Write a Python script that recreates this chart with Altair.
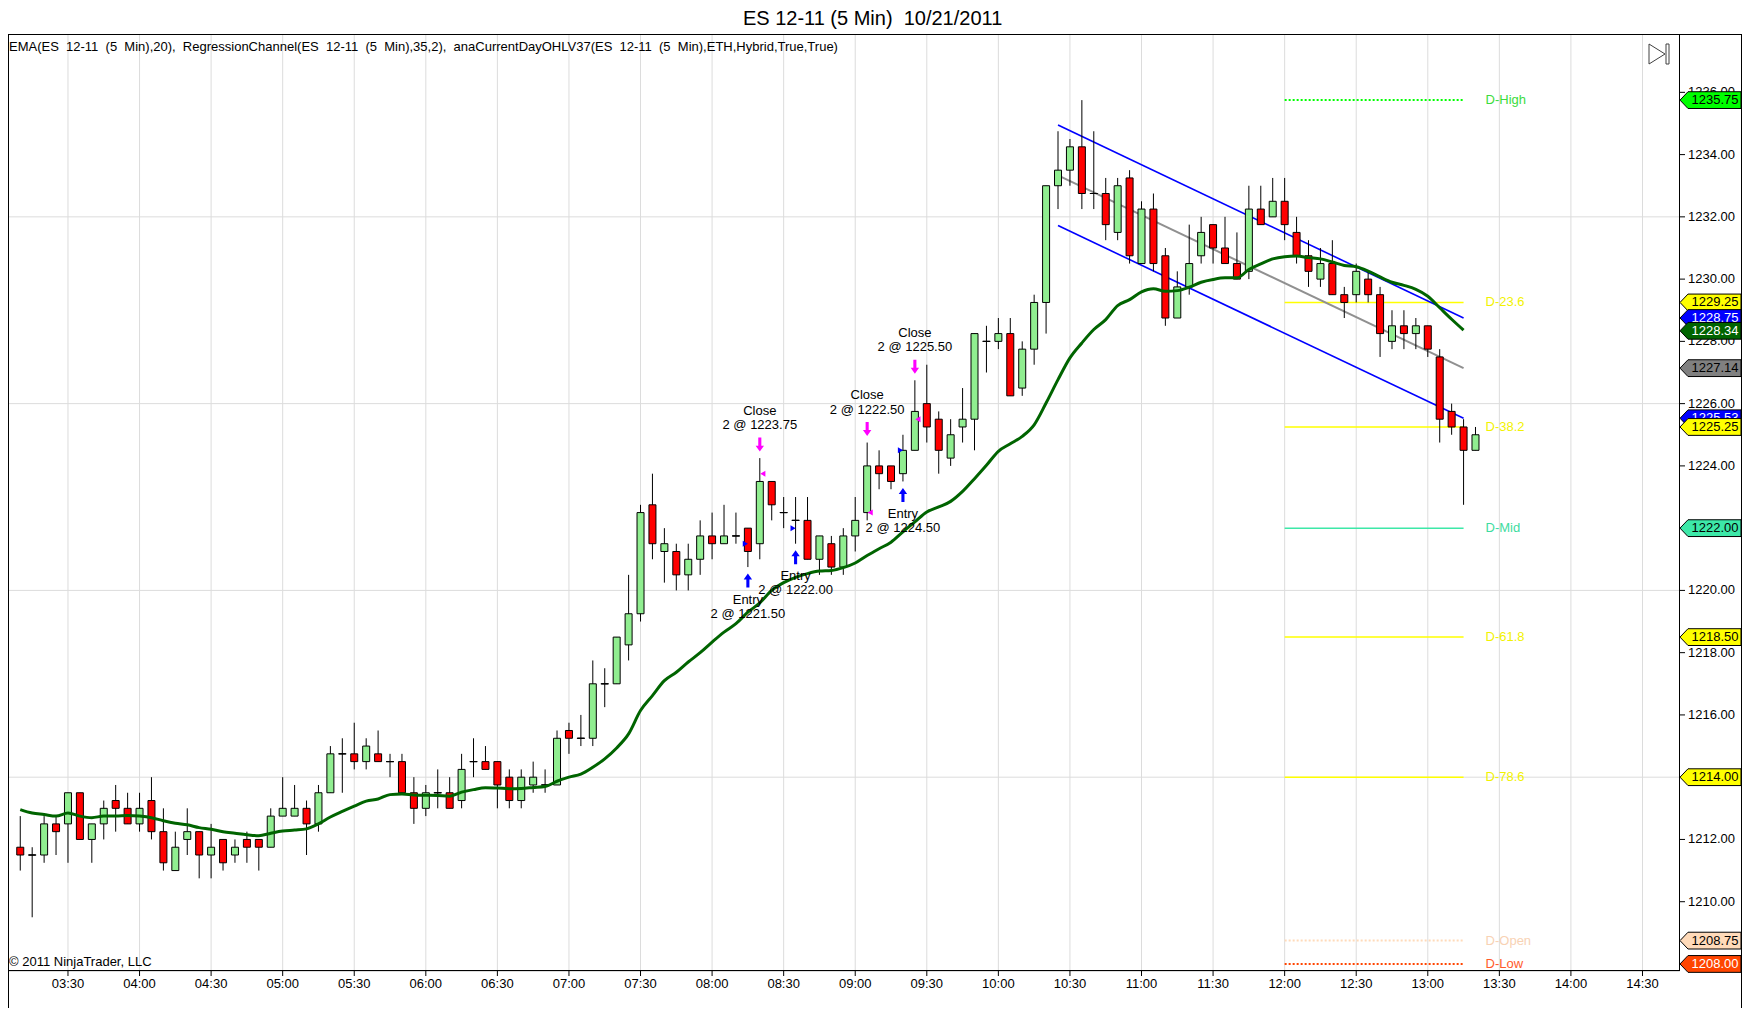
import altair as alt
import pandas as pd

# ---------------- data ----------------
bar_start_minute = 190      # first bar closes 03:10
bar_step_minutes = 5

opens = [1211.75, 1211.5, 1211.5, 1212.5, 1212.5, 1213.5, 1212.0, 1212.5, 1213.25, 1213.0,
         1212.5, 1213.25, 1212.25, 1211.0, 1212.0, 1212.25, 1211.5, 1212.0, 1211.5, 1212.0,
         1212.0, 1211.75, 1212.75, 1212.75, 1213.0, 1212.5, 1213.5, 1214.75, 1214.75, 1214.5,
         1214.75, 1214.5, 1214.5, 1213.5, 1213.0, 1213.5, 1213.5, 1213.25, 1214.5, 1214.5,
         1214.5, 1214.0, 1213.25, 1213.75, 1213.75, 1213.75, 1215.5, 1215.25, 1215.25, 1217.0,
         1217.0, 1218.25, 1219.25, 1222.75, 1221.25, 1221.25, 1220.5, 1221.0, 1221.75, 1221.5,
         1221.75, 1222.0, 1221.5, 1223.5, 1222.5, 1222.25, 1222.25, 1221.0, 1221.5, 1220.75,
         1221.75, 1222.5, 1224.0, 1224.0, 1223.75, 1224.5, 1226.0, 1225.5, 1224.25, 1225.25,
         1225.5, 1228.0, 1228.0, 1228.25, 1226.5, 1227.75, 1229.25, 1233.0, 1233.5, 1234.25,
         1232.75, 1232.75, 1231.5, 1233.25, 1230.5, 1232.25, 1230.75, 1228.75, 1229.75, 1230.75,
         1231.75, 1231.0, 1230.5, 1230.25, 1232.25, 1232.0, 1232.5, 1231.5, 1230.75, 1230.0,
         1230.5, 1229.5, 1229.5, 1230.0, 1229.5, 1228.0, 1228.5, 1228.25, 1228.5, 1227.5,
         1225.75, 1225.25, 1224.5]
highs = [1212.75, 1211.75, 1212.75, 1212.75, 1213.5, 1213.5, 1212.5, 1213.25, 1213.75, 1213.5,
         1213.5, 1214.0, 1213.0, 1212.25, 1213.0, 1212.25, 1212.5, 1212.0, 1212.0, 1212.25,
         1212.0, 1213.0, 1214.0, 1213.75, 1213.25, 1213.75, 1215.0, 1215.25, 1215.75, 1215.25,
         1215.5, 1214.75, 1214.75, 1214.0, 1213.75, 1214.25, 1214.0, 1214.75, 1215.25, 1215.0,
         1214.5, 1214.25, 1214.25, 1214.5, 1214.25, 1215.5, 1215.75, 1216.0, 1217.75, 1217.5,
         1218.5, 1220.5, 1222.75, 1223.75, 1222.0, 1221.5, 1221.5, 1222.25, 1222.5, 1222.75,
         1222.5, 1222.0, 1224.25, 1223.5, 1223.0, 1223.0, 1223.0, 1221.75, 1221.75, 1222.0,
         1223.0, 1224.75, 1224.5, 1224.0, 1225.0, 1226.75, 1227.25, 1225.75, 1225.5, 1226.5,
         1228.25, 1228.5, 1228.75, 1228.75, 1228.0, 1229.5, 1233.0, 1234.75, 1234.5, 1235.75,
         1234.75, 1233.25, 1233.25, 1233.5, 1232.5, 1232.75, 1231.0, 1230.25, 1231.75, 1232.0,
         1231.75, 1232.0, 1231.5, 1233.0, 1233.0, 1233.25, 1233.25, 1232.0, 1231.25, 1231.0,
         1231.25, 1229.75, 1230.5, 1230.25, 1229.75, 1229.0, 1229.0, 1228.75, 1228.5, 1227.75,
         1226.0, 1225.5, 1225.25]
lows = [1211.0, 1209.5, 1211.25, 1211.5, 1211.25, 1212.0, 1211.25, 1212.0, 1212.25, 1212.5,
        1212.25, 1212.0, 1211.0, 1211.0, 1211.5, 1210.75, 1210.75, 1211.0, 1211.25, 1211.25,
        1211.0, 1211.75, 1212.75, 1212.75, 1211.5, 1212.25, 1213.5, 1213.5, 1214.25, 1214.25,
        1214.5, 1214.0, 1213.5, 1212.5, 1212.75, 1213.0, 1213.0, 1213.0, 1214.0, 1214.25,
        1213.0, 1213.0, 1213.0, 1213.5, 1213.5, 1213.75, 1214.75, 1215.0, 1215.0, 1216.25,
        1217.0, 1217.75, 1219.0, 1221.0, 1220.25, 1220.0, 1220.0, 1220.5, 1221.0, 1221.5,
        1221.5, 1220.75, 1221.0, 1222.25, 1222.0, 1221.5, 1221.0, 1220.5, 1220.5, 1220.5,
        1221.25, 1222.25, 1223.25, 1223.25, 1223.5, 1224.5, 1224.75, 1223.75, 1224.0, 1224.75,
        1224.5, 1227.0, 1227.75, 1226.25, 1226.25, 1227.25, 1228.25, 1232.25, 1233.0, 1232.25,
        1232.25, 1231.25, 1231.25, 1230.5, 1230.5, 1230.25, 1228.5, 1228.75, 1229.5, 1230.5,
        1230.5, 1230.5, 1230.0, 1230.0, 1231.75, 1232.0, 1231.25, 1230.5, 1229.75, 1229.75,
        1229.5, 1228.75, 1229.25, 1229.25, 1227.5, 1227.75, 1227.75, 1227.75, 1227.5, 1224.75,
        1225.0, 1222.75, 1224.5]
closes = [1211.5, 1211.5, 1212.5, 1212.25, 1213.5, 1212.0, 1212.5, 1213.0, 1213.0, 1212.5,
          1213.0, 1212.25, 1211.25, 1211.75, 1212.25, 1211.5, 1211.75, 1211.25, 1211.75, 1211.75,
          1211.75, 1212.75, 1213.0, 1213.0, 1212.5, 1213.5, 1214.75, 1214.75, 1214.5, 1215.0,
          1214.5, 1214.5, 1213.5, 1213.0, 1213.5, 1213.5, 1213.0, 1214.25, 1214.5, 1214.25,
          1213.75, 1213.25, 1214.0, 1214.0, 1213.75, 1215.25, 1215.25, 1215.25, 1217.0, 1217.0,
          1218.5, 1219.25, 1222.5, 1221.5, 1221.5, 1220.5, 1221.0, 1221.75, 1221.5, 1221.75,
          1221.75, 1221.25, 1223.5, 1222.75, 1222.5, 1222.25, 1221.0, 1221.75, 1220.75, 1221.75,
          1222.25, 1224.0, 1223.75, 1223.5, 1224.5, 1225.75, 1225.25, 1224.5, 1225.0, 1225.5,
          1228.25, 1228.0, 1228.25, 1226.25, 1227.75, 1229.25, 1233.0, 1233.5, 1234.25, 1232.75,
          1232.75, 1231.75, 1233.0, 1230.75, 1232.25, 1230.5, 1228.75, 1229.75, 1230.5, 1231.5,
          1231.0, 1230.5, 1230.0, 1232.25, 1231.75, 1232.5, 1231.75, 1230.75, 1230.25, 1230.5,
          1229.5, 1229.25, 1230.25, 1229.5, 1228.25, 1228.5, 1228.25, 1228.5, 1227.75, 1225.5,
          1225.25, 1224.5, 1225.0]

# EMA(20), one value per bar (drawn up to the 13:15 bar)
ema20 = [1212.96, 1212.85, 1212.8, 1212.75, 1212.85, 1212.75, 1212.7, 1212.75, 1212.75, 1212.77,
         1212.75, 1212.7, 1212.6, 1212.52, 1212.47, 1212.38, 1212.33, 1212.25, 1212.2, 1212.15,
         1212.12, 1212.2, 1212.27, 1212.3, 1212.34, 1212.5, 1212.72, 1212.9, 1213.07, 1213.23,
         1213.3, 1213.44, 1213.46, 1213.43, 1213.42, 1213.41, 1213.39, 1213.52, 1213.6, 1213.66,
         1213.65, 1213.63, 1213.64, 1213.67, 1213.7, 1213.87, 1214.0, 1214.1, 1214.32, 1214.59,
         1214.94, 1215.39, 1216.14, 1216.62, 1217.1, 1217.37, 1217.7, 1218.0, 1218.34, 1218.66,
         1218.93, 1219.3, 1219.6, 1220.0, 1220.25, 1220.42, 1220.54, 1220.62, 1220.64, 1220.73,
         1220.88, 1221.12, 1221.34, 1221.55, 1221.88, 1222.2, 1222.52, 1222.68, 1222.86, 1223.18,
         1223.59, 1224.02, 1224.47, 1224.71, 1224.95, 1225.32, 1226.02, 1226.77, 1227.47, 1227.95,
         1228.38, 1228.7, 1229.15, 1229.34, 1229.59, 1229.69, 1229.61, 1229.63, 1229.74, 1229.9,
         1229.99, 1230.04, 1230.04, 1230.31, 1230.49, 1230.65, 1230.72, 1230.74, 1230.69, 1230.65,
         1230.55, 1230.44, 1230.4, 1230.26, 1230.07, 1229.9, 1229.8, 1229.67, 1229.45, 1229.08,
         1228.71, 1228.36]

# Regression channel (35 bars) end points
reg_minutes = [625, 795]
reg_mid = [1233.33, 1227.14]
reg_upper = [1234.95, 1228.75]
reg_lower = [1231.72, 1225.53]

# Current-day OHL levels
level_start_minute = 720
level_end_minute = 795
level_names = ["D-High", "D-23.6", "D-38.2", "D-Mid", "D-61.8", "D-78.6", "D-Open", "D-Low"]
level_prices = [1235.75, 1229.25, 1225.25, 1222.00, 1218.50, 1214.00, 1208.75, 1208.00]
level_line_colors = ["#00FF00", "#FFFF00", "#FFFF00", "#3DE8A8", "#FFFF00", "#FFFF00", "#FFDAB9", "#FF4500"]
level_text_colors = ["#3CDC3C", "#F2F200", "#F2F200", "#3DDCA0", "#F2F200", "#F2F200", "#F8D2B4", "#FF5A2A"]
level_dotted = [True, False, False, False, False, False, True, True]

# Right-axis price flags
flag_values = [1235.75, 1229.25, 1228.75, 1228.34, 1227.14, 1225.53, 1225.25, 1222.00, 1218.50, 1214.00, 1208.75, 1208.00]
flag_fills = ["#00FF00", "#FFFF00", "#0000FF", "#006400", "#808080", "#0000FF", "#FFFF00", "#3DE8A8",
              "#FFFF00", "#FFFF00", "#FFDAB9", "#FF4500"]
flag_text_colors = ["#000000", "#000000", "#FFFFFF", "#FFFFFF", "#000000", "#FFFFFF", "#000000", "#000000",
                    "#000000", "#000000", "#000000", "#FFFFFF"]

# Trade executions
trade_qty = 2
entry_bars = [61, 65, 74]
entry_prices = [1221.50, 1222.00, 1224.50]
exit_bars = [62, 71, 75]
exit_prices = [1223.75, 1222.50, 1225.50]

# Axes
x_tick_minutes = [210 + 30 * k for k in range(23)]
x_tick_labels = ["03:30", "04:00", "04:30", "05:00", "05:30", "06:00", "06:30", "07:00", "07:30",
                 "08:00", "08:30", "09:00", "09:30", "10:00", "10:30", "11:00", "11:30", "12:00",
                 "12:30", "13:00", "13:30", "14:00", "14:30"]
y_tick_values = [1208 + 2 * k for k in range(15)]
h_grid_prices = [1214, 1220, 1226, 1232]

title_text = "ES 12-11 (5 Min) \u00a010/21/2011"
indicator_text = ("EMA(ES \u00a012-11 \u00a0(5 \u00a0Min),20), \u00a0RegressionChannel(ES \u00a012-11 \u00a0(5 \u00a0Min),35,2), "
                  "\u00a0anaCurrentDayOHLV37(ES \u00a012-11 \u00a0(5 \u00a0Min),ETH,Hybrid,True,True)")
copyright_text = "\u00a9 2011 NinjaTrader, LLC"

# ---------------- frames ----------------
n = len(opens)
bar_minutes = [bar_start_minute + bar_step_minutes * i for i in range(n)]
candles = pd.DataFrame({
    "t": bar_minutes, "open": opens, "high": highs, "low": lows, "close": closes,
})
candles["fill"] = ["#90EE90" if c > o else "#FF0000" for o, c in zip(opens, closes)]
dojis = candles[candles["open"] == candles["close"]]
ema_df = pd.DataFrame({"t": bar_minutes[:len(ema20)], "ema": ema20})
reg_df = pd.DataFrame({"t": reg_minutes, "mid": reg_mid, "up": reg_upper, "lo": reg_lower})
levels = pd.DataFrame({"name": level_names, "price": level_prices, "lc": level_line_colors,
                       "tc": level_text_colors, "dotted": level_dotted,
                       "t0": level_start_minute, "t1": level_end_minute})
entries = pd.DataFrame({
    "t": [bar_minutes[b] for b in entry_bars], "low": [lows[b] for b in entry_bars],
    "price": entry_prices, "label": [f"{trade_qty} @ {p:.2f}" for p in entry_prices]})
exits = pd.DataFrame({
    "t": [bar_minutes[b] for b in exit_bars], "high": [highs[b] for b in exit_bars],
    "price": exit_prices, "label": [f"{trade_qty} @ {p:.2f}" for p in exit_prices]})
xticks_df = pd.DataFrame({"t": x_tick_minutes, "label": x_tick_labels})
yticks_df = pd.DataFrame({"p": y_tick_values, "label": [f"{v:.2f}" for v in y_tick_values]})
one = pd.DataFrame({"k": [0]})

# ---------------- scales ----------------
W, H = 1671, 937
xs = alt.Scale(domain=[186.958, 883.208], nice=False, zero=False)
ys = alt.Scale(domain=[1207.774, 1237.874], nice=False, zero=False)
FONT = "Liberation Sans"


def X(field):
    return alt.X(field, type="quantitative", scale=xs, axis=None)


def Y(field):
    return alt.Y(field, type="quantitative", scale=ys, axis=None)


layers = []

# gridlines
layers.append(alt.Chart(xticks_df).mark_rule(color="#DCDCDC", strokeWidth=1).encode(x=X("t")))
layers.append(alt.Chart(pd.DataFrame({"p": h_grid_prices})).mark_rule(color="#DCDCDC", strokeWidth=1).encode(y=Y("p")))

# level lines and labels
for dotted, sub in levels.groupby("dotted"):
    mk = dict(strokeWidth=2, strokeDash=[2, 2]) if dotted else dict(strokeWidth=1.5)
    layers.append(alt.Chart(sub).mark_rule(**mk).encode(
        x=X("t0"), x2="t1", y=Y("price"), color=alt.Color("lc:N", scale=None)))
layers.append(alt.Chart(levels).mark_text(align="left", baseline="middle", dx=22, fontSize=13, font=FONT).encode(
    x=X("t1"), y=Y("price"), text="name:N", color=alt.Color("tc:N", scale=None)))

# regression channel
layers.append(alt.Chart(reg_df).mark_line(color="#909090", strokeWidth=2).encode(x=X("t"), y=Y("mid")))
layers.append(alt.Chart(reg_df).mark_line(color="#0000FF", strokeWidth=1.6).encode(x=X("t"), y=Y("up")))
layers.append(alt.Chart(reg_df).mark_line(color="#0000FF", strokeWidth=1.6).encode(x=X("t"), y=Y("lo")))

# candles
layers.append(alt.Chart(candles).mark_rule(color="#000000", strokeWidth=1).encode(
    x=X("t"), y=Y("low"), y2="high"))
layers.append(alt.Chart(candles).mark_bar(width=7, stroke="#000000", strokeWidth=1, opacity=1).encode(
    x=X("t"), y=Y("open"), y2="close", fill=alt.Fill("fill:N", scale=None)))
layers.append(alt.Chart(dojis).mark_tick(orient="horizontal", size=8, thickness=1, color="#000000", opacity=1).encode(
    x=X("t"), y=Y("open")))

# EMA
layers.append(alt.Chart(ema_df).mark_line(color="#006400", strokeWidth=3, interpolate="monotone").encode(
    x=X("t"), y=Y("ema")))

# executions
up_arrow = "M0,-1L0.6,-0.15L0.22,-0.15L0.22,1L-0.22,1L-0.22,-0.15L-0.6,-0.15Z"
down_arrow = "M0,1L0.6,0.15L0.22,0.15L0.22,-1L-0.22,-1L-0.22,0.15L-0.6,0.15Z"
layers.append(alt.Chart(entries).mark_point(shape=up_arrow, size=196, filled=True, color="#0000FF",
                                            opacity=1, yOffset=13.5).encode(x=X("t"), y=Y("low")))
layers.append(alt.Chart(exits).mark_point(shape=down_arrow, size=196, filled=True, color="#FF00FF",
                                          opacity=1, yOffset=-13.5).encode(x=X("t"), y=Y("high")))
layers.append(alt.Chart(entries).mark_point(shape="triangle-right", size=36, filled=True, color="#0000FF",
                                            opacity=1, xOffset=-2.5).encode(x=X("t"), y=Y("price")))
layers.append(alt.Chart(exits).mark_point(shape="triangle-left", size=36, filled=True, color="#FF00FF",
                                          opacity=1, xOffset=3).encode(x=X("t"), y=Y("price")))
layers.append(alt.Chart(entries).mark_text(text="Entry", fontSize=13, font=FONT, color="#000000",
                                           baseline="middle", yOffset=32.5).encode(x=X("t"), y=Y("low")))
layers.append(alt.Chart(entries).mark_text(fontSize=13, font=FONT, color="#000000",
                                           baseline="middle", yOffset=46.5).encode(x=X("t"), y=Y("low"), text="label:N"))
layers.append(alt.Chart(exits).mark_text(fontSize=13, font=FONT, color="#000000",
                                         baseline="middle", yOffset=-33).encode(x=X("t"), y=Y("high"), text="label:N"))
layers.append(alt.Chart(exits).mark_text(text="Close", fontSize=13, font=FONT, color="#000000",
                                         baseline="middle", yOffset=-47.5).encode(x=X("t"), y=Y("high")))

# time axis (drawn as marks from the tick lists)
layers.append(alt.Chart(one).mark_rule(color="#000000", strokeWidth=1).encode(
    x=alt.value(0), x2=alt.value(W), y=alt.value(H - 0.5)))
layers.append(alt.Chart(xticks_df).mark_rule(color="#000000", strokeWidth=1).encode(
    x=X("t"), y=alt.value(H), y2=alt.value(H + 5)))
layers.append(alt.Chart(xticks_df).mark_text(fontSize=13, font=FONT, color="#000000", baseline="middle").encode(
    x=X("t"), y=alt.value(H + 13), text="label:N"))

# price axis (right)
layers.append(alt.Chart(one).mark_rule(color="#000000", strokeWidth=1).encode(
    x=alt.value(W + 0.5), y=alt.value(0), y2=alt.value(H)))
layers.append(alt.Chart(yticks_df).mark_rule(color="#000000", strokeWidth=1).encode(
    x=alt.value(W), x2=alt.value(W + 6), y=Y("p")))
layers.append(alt.Chart(yticks_df).mark_text(fontSize=13, font=FONT, color="#000000", align="left",
                                             baseline="middle").encode(
    x=alt.value(W + 9), y=Y("p"), text="label:N"))

# right-axis flags
flag_path = "M-1,0L-0.738,-0.275L1,-0.275L1,0.275L-0.738,0.275Z"
for price, fill, tcol in zip(flag_values, flag_fills, flag_text_colors):
    fdf = pd.DataFrame({"price": [price], "label": [f"{price:.2f}"]})
    layers.append(alt.Chart(fdf).mark_point(shape=flag_path, size=3721, filled=True, fill=fill,
                                            stroke="#000000", strokeWidth=1, opacity=1).encode(
        x=alt.value(1702.5), y=Y("price")))
    layers.append(alt.Chart(fdf).mark_text(color=tcol, fontSize=13, font=FONT, align="center",
                                           baseline="middle").encode(
        x=alt.value(1707), y=Y("price"), text="label:N"))

# frame lines
layers.append(alt.Chart(one).mark_rule(color="#000000", strokeWidth=1).encode(
    x=alt.value(0), x2=alt.value(1734), y=alt.value(0.5)))
layers.append(alt.Chart(one).mark_rule(color="#000000", strokeWidth=1).encode(
    x=alt.value(0.5), y=alt.value(0), y2=alt.value(974)))
layers.append(alt.Chart(one).mark_rule(color="#000000", strokeWidth=1).encode(
    x=alt.value(1733.5), y=alt.value(0), y2=alt.value(974)))

# texts
layers.append(alt.Chart(one).mark_text(text=title_text, fontSize=20, font=FONT, color="#000000",
                                       align="center", baseline="middle").encode(
    x=alt.value(864.6), y=alt.value(-15)))
layers.append(alt.Chart(one).mark_text(text=indicator_text, fontSize=13, font=FONT, color="#000000",
                                       align="left", baseline="middle").encode(
    x=alt.value(1), y=alt.value(13)))
layers.append(alt.Chart(one).mark_text(text=copyright_text, fontSize=13, font=FONT, color="#000000",
                                       align="left", baseline="middle").encode(
    x=alt.value(1), y=alt.value(928)))

# play/end icon
layers.append(alt.Chart(one).mark_point(shape="M-1,-1.25L1,0L-1,1.25Z", size=256, filled=False,
                                        color="#404040", strokeWidth=1, opacity=1).encode(
    x=alt.value(1649), y=alt.value(20)))
layers.append(alt.Chart(one).mark_rect(fill="#FFFFFF", stroke="#404040", strokeWidth=1).encode(
    x=alt.value(1658), x2=alt.value(1661), y=alt.value(10), y2=alt.value(30)))

chart = alt.layer(*layers).properties(
    width=W, height=H,
    padding={"left": 0, "top": 26, "right": 63, "bottom": 37},
    autosize=alt.AutoSizeParams(type="none"),
    background="#FFFFFF",
).configure_view(strokeWidth=0).configure(font=FONT)

chart.save("out.html", embed_options={"renderer": "svg", "actions": False})
